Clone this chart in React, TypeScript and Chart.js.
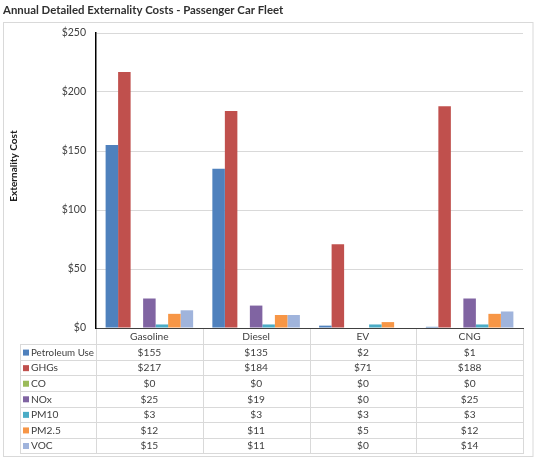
import { useEffect, useRef } from 'react';
import Chart from 'chart.js/auto';

const categories = ['Gasoline', 'Diesel', 'EV', 'CNG'];
const seriesNames = ['Petroleum Use', 'GHGs', 'CO', 'NOx', 'PM10', 'PM2.5', 'VOC'];
const petroleumUse = [155, 135, 2, 1];
const ghgs = [217, 184, 71, 188];
const co = [0, 0, 0, 0];
const nox = [25, 19, 0, 25];
const pm10 = [3, 3, 3, 3];
const pm25 = [12, 11, 5, 12];
const voc = [15, 11, 0, 14];
const seriesColors = ['#4F81BD', '#C0504D', '#9BBB59', '#8064A2', '#4BACC6', '#F79646', '#A0B4DC'];

const FONT = 'Lato, "Noto Sans", sans-serif';
const GRID = '#D9D9D9';
const TEXT = '#404040';

// draws the title, outer frame, y title and the data table under the axis
const tablePlugin = {
  id: 'dataTable',
  beforeDraw(chart: Chart) {
    const { ctx } = chart;
    ctx.save();
    ctx.fillStyle = '#ffffff';
    ctx.fillRect(0, 0, chart.width, chart.height);
    ctx.strokeStyle = GRID;
    ctx.lineWidth = 1;
    ctx.strokeRect(3.5, 22.5, 529.5, 434);
    ctx.restore();
  },
  afterDraw(chart: Chart) {
    const { ctx, chartArea } = chart;
    const x = chart.scales.x;
    const n = categories.length;
    const colW = (x.right - x.left) / n;
    const top = chartArea.bottom;
    const headerBottom = top + 16.3;
    const rowH = 15.57;
    const tableLeft = 20;
    const rows = chart.data.datasets.length;
    const bottom = headerBottom + rowH * rows;

    ctx.save();
    // title
    ctx.fillStyle = '#303030';
    ctx.font = `bold 11.4px ${FONT}`;
    ctx.textBaseline = 'middle';
    ctx.textAlign = 'left';
    ctx.fillText('Annual Detailed Externality Costs - Passenger Car Fleet', 3, 10);

    // y axis title
    ctx.save();
    ctx.translate(13.5, 166);
    ctx.rotate(-Math.PI / 2);
    ctx.textAlign = 'center';
    ctx.font = `bold 10px ${FONT}`;
    ctx.fillStyle = '#202020';
    ctx.fillText('Externality Cost', 0, 0);
    ctx.restore();

    // grid lines of the table
    ctx.strokeStyle = GRID;
    ctx.lineWidth = 1;
    ctx.beginPath();
    for (let i = 0; i <= n; i++) {
      const px = Math.round(x.left + colW * i) + 0.5;
      ctx.moveTo(px, top + 1);
      ctx.lineTo(px, bottom);
    }
    ctx.moveTo(tableLeft + 0.5, headerBottom);
    ctx.lineTo(tableLeft + 0.5, bottom);
    for (let r = 0; r <= rows; r++) {
      const py = Math.round(headerBottom + rowH * r) + 0.5;
      ctx.moveTo(tableLeft, py);
      ctx.lineTo(x.right + 1, py);
    }
    ctx.stroke();

    // header labels
    ctx.font = `10.2px ${FONT}`;
    ctx.fillStyle = TEXT;
    ctx.textAlign = 'center';
    categories.forEach((c, i) => {
      ctx.fillText(c, x.getPixelForValue(i), (top + headerBottom) / 2 + 0.5);
    });

    // rows
    chart.data.datasets.forEach((ds, r) => {
      const cy = headerBottom + rowH * r + rowH / 2 + 0.5;
      ctx.fillStyle = ds.backgroundColor as string;
      ctx.fillRect(23, cy - 3, 6, 6);
      ctx.fillStyle = TEXT;
      ctx.textAlign = 'left';
      ctx.fillText(ds.label as string, 31, cy, 63);
      ctx.textAlign = 'center';
      (ds.data as number[]).forEach((v, i) => {
        ctx.fillText('$' + v, x.getPixelForValue(i), cy);
      });
    });
    ctx.restore();
  },
};

export default function App() {
  const canvasRef = useRef<HTMLCanvasElement>(null);
  const chartRef = useRef<Chart | null>(null);

  useEffect(() => {
    if (!canvasRef.current) return;
    if (chartRef.current) chartRef.current.destroy();
    const ctx = canvasRef.current.getContext('2d');
    if (!ctx) return;

    const values = [petroleumUse, ghgs, co, nox, pm10, pm25, voc];

    chartRef.current = new Chart(ctx, {
      type: 'bar',
      data: {
        labels: categories,
        datasets: values.map((data, i) => ({
          label: seriesNames[i],
          data,
          backgroundColor: seriesColors[i],
          borderWidth: 0,
          categoryPercentage: 0.82,
          barPercentage: 1,
        })),
      },
      options: {
        animation: false,
        responsive: true,
        maintainAspectRatio: false,
        layout: { padding: { left: 4, right: 17, top: 33, bottom: 0 } },
        plugins: {
          legend: { display: false },
          title: { display: false },
          tooltip: { enabled: false },
        },
        scales: {
          x: {
            grid: { display: false, drawTicks: false },
            border: { color: '#404040', width: 1 },
            ticks: { display: false },
            afterFit: (scale: any) => {
              scale.height = 138;
            },
          },
          y: {
            min: 0,
            max: 250,
            grid: { color: GRID, drawTicks: false },
            border: { color: '#000000', width: 1.5 },
            ticks: {
              stepSize: 50,
              padding: 10,
              color: TEXT,
              font: { family: FONT, size: 10.5 },
              callback: (v: any) => '$' + v,
            },
            afterFit: (scale: any) => {
              scale.width = 92;
            },
          },
        },
      },
      plugins: [tablePlugin],
    });

    return () => chartRef.current?.destroy();
  }, []);

  return (
    <div style={{ position: 'absolute', left: 0, top: 0, width: 540, height: 466 }}>
      <canvas ref={canvasRef} />
    </div>
  );
}
